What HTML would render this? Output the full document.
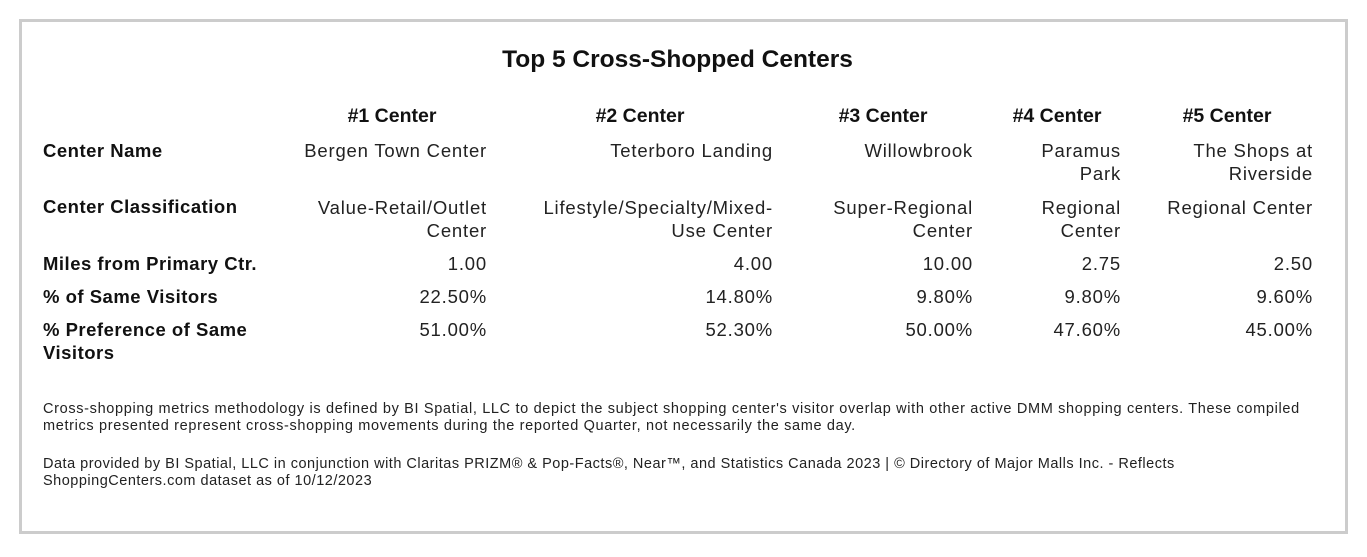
<!DOCTYPE html>
<html><head><meta charset="utf-8"><style>
body{margin:0;width:1367px;height:557px;background:#fff;font-family:"Liberation Sans",sans-serif;color:#111;position:relative;overflow:hidden}
.box{position:absolute;left:19px;top:19px;width:1323px;height:509px;border:3px solid #cccccc}
.t{position:absolute;white-space:nowrap;line-height:23px}
.b{font-weight:bold}
.h{font-size:19.5px;font-weight:bold;transform:translate(-50%,0)}
.l{font-size:18.5px;font-weight:bold;left:43px;letter-spacing:0.5px}
.v{font-size:18.5px;text-align:right;color:#222;letter-spacing:0.8px}
.f{position:absolute;left:43px;font-size:14.5px;line-height:17px;color:#222;white-space:nowrap;letter-spacing:0.5px}
</style></head><body>
<div class="box"></div>
<div class="t b" style="left:0;width:1355px;text-align:center;top:46px;font-size:24.5px;line-height:28px">Top 5 Cross-Shopped Centers</div>
<div class="t h" style="left:392px;top:105px">#1 Center</div>
<div class="t h" style="left:640px;top:105px">#2 Center</div>
<div class="t h" style="left:883px;top:105px">#3 Center</div>
<div class="t h" style="left:1057px;top:105px">#4 Center</div>
<div class="t h" style="left:1227px;top:105px">#5 Center</div>

<div class="t l" style="top:139px">Center Name</div>
<div class="t l" style="top:195px">Center Classification</div>
<div class="t l" style="top:252px">Miles from Primary Ctr.</div>
<div class="t l" style="top:285px">% of Same Visitors</div>
<div class="t l" style="top:318px">% Preference of Same<br>Visitors</div>

<div class="t v" style="right:880px;top:139px">Bergen Town Center</div>
<div class="t v" style="right:594px;top:139px">Teterboro Landing</div>
<div class="t v" style="right:394px;top:139px">Willowbrook</div>
<div class="t v" style="right:246px;top:139px">Paramus<br>Park</div>
<div class="t v" style="right:54px;top:139px">The Shops at<br>Riverside</div>

<div class="t v" style="right:880px;top:196px">Value-Retail/Outlet<br>Center</div>
<div class="t v" style="right:594px;top:196px">Lifestyle/Specialty/Mixed-<br>Use Center</div>
<div class="t v" style="right:394px;top:196px">Super-Regional<br>Center</div>
<div class="t v" style="right:246px;top:196px">Regional<br>Center</div>
<div class="t v" style="right:54px;top:196px">Regional Center</div>

<div class="t v" style="right:880px;top:252px">1.00</div>
<div class="t v" style="right:594px;top:252px">4.00</div>
<div class="t v" style="right:394px;top:252px">10.00</div>
<div class="t v" style="right:246px;top:252px">2.75</div>
<div class="t v" style="right:54px;top:252px">2.50</div>

<div class="t v" style="right:880px;top:285px">22.50%</div>
<div class="t v" style="right:594px;top:285px">14.80%</div>
<div class="t v" style="right:394px;top:285px">9.80%</div>
<div class="t v" style="right:246px;top:285px">9.80%</div>
<div class="t v" style="right:54px;top:285px">9.60%</div>

<div class="t v" style="right:880px;top:318px">51.00%</div>
<div class="t v" style="right:594px;top:318px">52.30%</div>
<div class="t v" style="right:394px;top:318px">50.00%</div>
<div class="t v" style="right:246px;top:318px">47.60%</div>
<div class="t v" style="right:54px;top:318px">45.00%</div>

<div class="f" style="top:401px;letter-spacing:0.66px">Cross-shopping metrics methodology is defined by BI Spatial, LLC to depict the subject shopping center's visitor overlap with other active DMM shopping centers. These compiled<br>metrics presented represent cross-shopping movements during the reported Quarter, not necessarily the same day.</div>
<div class="f" style="top:456px">Data provided by BI Spatial, LLC in conjunction with Claritas PRIZM® &amp; Pop-Facts®, Near™, and Statistics Canada 2023 | © Directory of Major Malls Inc. - Reflects<br>ShoppingCenters.com dataset as of 10/12/2023</div>
</body></html>
